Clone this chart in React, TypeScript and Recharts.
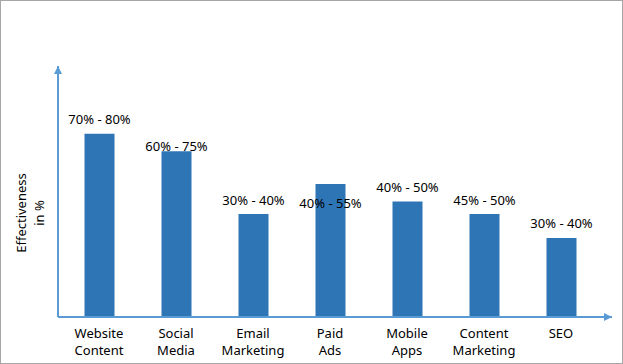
import React from 'react';
import { BarChart, Bar, XAxis, YAxis, LabelList } from 'recharts';

const channels = ['Website Content', 'Social Media', 'Email Marketing', 'Paid Ads', 'Mobile Apps', 'Content Marketing', 'SEO'];
const effectiveness = [73, 66, 41, 53, 46, 41, 31.5];
const rangeLabels = ['70% - 80%', '60% - 75%', '30% - 40%', '40% - 55%', '40% - 50%', '45% - 50%', '30% - 40%'];
// vertical shift of each range label relative to its bar top (px)
const labelShift = [-15, -5, -14, 19, -15, -14, -15];

const axisBlue = '#5b9bd5';
const barBlue = '#2e75b6';
const font = '"Noto Sans", sans-serif';

const data = channels.map((name, i) => ({ name, value: effectiveness[i], range: rangeLabels[i] }));

function ChannelTick(props: any) {
  const { x, y, payload } = props;
  const lines = String(payload.value).split(' ');
  return (
    <g>
      {lines.map((line: string, i: number) => (
        <text
          key={i}
          x={x}
          y={y + 16 + i * 17}
          textAnchor="middle"
          dominantBaseline="central"
          fontSize={13}
          fontFamily={font}
          fill="#000"
        >
          {line}
        </text>
      ))}
    </g>
  );
}

function RangeLabel(props: any) {
  const { x, y, width, value, index } = props;
  return (
    <text
      x={x + width / 2}
      y={y + labelShift[index]}
      textAnchor="middle"
      dominantBaseline="central"
      fontSize={13}
      fontFamily={font}
      fill="#000"
    >
      {value}
    </text>
  );
}

function AxisTitle() {
  return (
    <g fontSize={13} fontFamily={font} fill="#000">
      <text x={21} y={213} textAnchor="middle" dominantBaseline="central" transform="rotate(-90 21 213)">
        Effectiveness
      </text>
      <text x={39} y={213} textAnchor="middle" dominantBaseline="central" transform="rotate(-90 39 213)">
        in %
      </text>
    </g>
  );
}

export default function App() {
  return (
    <div
      style={{
        position: 'fixed',
        top: 0,
        left: 0,
        width: 623,
        height: 364,
        border: '1px solid #a6a6a6',
        boxSizing: 'border-box',
        background: '#fff',
      }}
    >
      <div style={{ position: 'absolute', top: -1, left: -1 }}>
        <BarChart width={623} height={364} data={data} margin={{ top: 66, right: 11, left: 0, bottom: 7 }}>
          <defs>
            <marker
              id="axisArrow"
              viewBox="0 0 10 10"
              refX="10"
              refY="5"
              markerWidth="4"
              markerHeight="4"
              orient="auto-start-reverse"
            >
              <path d="M0,0 L10,5 L0,10 z" fill={axisBlue} />
            </marker>
          </defs>
          <XAxis
            dataKey="name"
            height={40}
            interval={0}
            tickLine={false}
            tickSize={0}
            tickMargin={0}
            padding={{ left: 2.5, right: 12.5 }}
            axisLine={{ stroke: axisBlue, strokeWidth: 2, markerEnd: 'url(#axisArrow)' } as any}
            tick={<ChannelTick />}
          />
          <YAxis
            width={58}
            domain={[0, 100]}
            tick={false}
            tickLine={false}
            axisLine={{ stroke: axisBlue, strokeWidth: 2, markerStart: 'url(#axisArrow)' } as any}
            label={<AxisTitle />}
          />
          <Bar dataKey="value" fill={barBlue} barSize={30} isAnimationActive={false}>
            <LabelList dataKey="range" content={<RangeLabel />} />
          </Bar>
        </BarChart>
      </div>
    </div>
  );
}
